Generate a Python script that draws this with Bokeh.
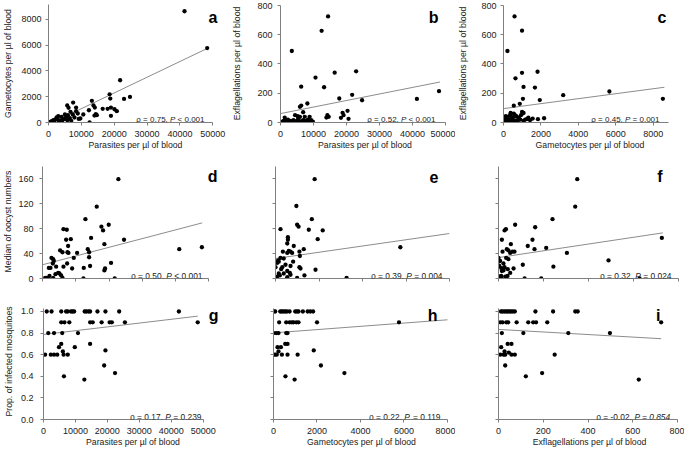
from bokeh.plotting import figure
from bokeh.layouts import column, row
from bokeh.models import Range1d, Label, NumeralTickFormatter
from bokeh.embed import file_html
from bokeh.resources import INLINE

# ---------------- data ----------------
# a: parasites vs gametocytes
a_parasites = [41400, 48300, 21800, 24800, 23000, 18600, 18800, 13200, 7500, 5700, 13700, 6100, 8400, 14100,
               12300, 16500, 18000, 19000, 20100, 20800, 19000, 14400, 14000, 14700, 8400, 8900, 9200, 9700,
               10600, 7400, 6700, 5900, 5400, 5000, 3960, 4450, 2970, 2480, 1980, 1490, 990, 500, 200, 6930,
               7900, 3470, 2770, 12500, 6500, 4160, 3170, 1780, 5740, 5050]
a_gametocytes = [8640, 5780, 3280, 1990, 1830, 2190, 1860, 1680, 1550, 1320, 1320, 1140, 1160, 1160, 950, 1060,
                 1060, 1160, 1030, 880, 520, 645, 540, 570, 880, 700, 280, 310, 620, 620, 830, 570, 440, 620,
                 440, 260, 490, 390, 230, 180, 100, 50, 30, 130, 390, 150, 260, 0, 340, 50, 50, 30, 180, 280]
# b: parasites vs exflagellations
b_parasites = [14400, 12450, 3430, 10600, 16400, 22900, 6270, 13200, 17800, 21700, 24700, 41300, 48000, 8140,
               6270, 5880, 20300, 18800, 19100, 18300, 20600, 14200, 13900, 14600, 4410, 6860, 5880, 5390, 7350,
               8820, 9310, 8330, 7840, 6860, 6370, 4900, 3920, 2940, 2450, 1960, 1470, 980, 490, 1270, 2250,
               3430, 5880, 7550, 8920, 9800, 5200]
b_exflag = [725, 627, 489, 307, 341, 350, 245, 241, 164, 189, 152, 161, 214, 130, 116, 107, 80, 66, 50, 32, 25,
            50, 34, 39, 50, 70, 39, 27, 39, 39, 16, 20, 11, 16, 7, 11, 16, 11, 7, 16, 7, 11, 5, 34, 20, 7, 7, 7,
            7, 5, 43]
# c: gametocytes vs exflagellations
c_gametocytes = [590, 990, 210, 640, 990, 1820, 1070, 1680, 1040, 1940, 3190, 5660, 8520, 550, 870, 380, 990,
                 1070, 610, 690, 550, 1330, 1250, 1560, 1840, 2170, 210, 120, 70, 290, 380, 470, 730, 810, 900,
                 35, 170, 260, 520, 640, 760, 1070, 1160, 1420, 350, 120, 430, 935, 0, 550]
c_exflag = [725, 628, 489, 302, 340, 347, 243, 239, 162, 153, 187, 212, 162, 115, 128, 65, 72, 65, 50, 43, 38,
            34, 23, 27, 23, 29, 38, 25, 16, 20, 11, 25, 16, 34, 20, 7, 9, 5, 7, 11, 5, 11, 20, 16, 50, 43, 34,
            50, 11, 61]
# d: parasites vs median oocysts
d_parasites = [22800, 16300, 12900, 19900, 17700, 18200, 24500, 14600, 6300, 7300, 7100, 8500, 7700, 7500, 7800,
               10400, 18600, 13600, 14000, 14000, 5300, 6000, 9400, 7400, 8900, 14300, 12400, 18800, 18600,
               20600, 41100, 47900, 2700, 3200, 3400, 3100, 1900, 2400, 4100, 4700, 5100, 5600, 6000, 3200,
               2100, 800, 1300, 12300, 21700, 3900, 6300]
d_oocysts = [159, 115, 95, 86, 83, 77, 62, 65, 79, 78, 62, 63, 52, 42, 41, 41, 55, 47, 42, 34, 45, 42, 33, 24,
             16, 20, 17, 16, 13, 25, 47, 50, 33, 31, 28, 24, 17, 17, 19, 9, 8, 5, 1, 1, 4, 1, 1, 0, 0, 7, 19]
# e: gametocytes vs median oocysts
e_gametocytes = [1800, 960, 1670, 995, 1060, 230, 1530, 2170, 570, 570, 1940, 540, 840, 5740, 1300, 340, 610,
                 690, 1100, 540, 765, 1120, 230, 120, 380, 150, 75, 810, 310, 460, 690, 1100, 1150, 1840, 0,
                 540, 660, 690, 150, 200, 75, 0, 540, 995, 1330, 3270, 380, 260]
e_oocysts = [159, 116, 95, 86, 83, 79, 78, 77, 66, 62, 63, 56, 52, 50, 47, 43, 44, 43, 43, 41, 41, 36, 33, 29,
             32, 27, 25, 27, 18, 22, 20, 18, 16, 14, 18, 12, 9, 6, 8, 5, 3, 1, 2, 1, 5, 1, 8, 15]
# f: exflagellations vs median oocysts
f_exflag = [350, 341, 240, 74, 163, 33, 27, 15, 151, 130, 212, 726, 55, 37, 44, 18, 52, 62, 71, 160, 304, 0, 34,
            7, 22, 3, 12, 27, 41, 67, 108, 244, 489, 52, 40, 30, 12, 4, 12, 116, 190, 627, 22, 15, 0, 44]
f_oocysts = [159, 115, 95, 86, 82, 79, 77, 62, 62, 52, 49, 65, 55, 47, 45, 43, 41, 43, 43, 47, 41, 33, 33, 28,
             24, 20, 17, 18, 15, 16, 22, 19, 29, 9, 4, 3, 4, 3, 1, 0, 0, 0, 13, 12, 21, 31]
# g: parasites vs proportion infected
g_parasites = [1010, 2520, 5560, 7070, 7580, 8590, 9090, 9600, 12900, 13400, 14100, 14600, 16900, 19400, 23700,
               42400, 5560, 6570, 8080, 14600, 15400, 18200, 20700, 21400, 25500, 48300, 1500, 3300, 5860,
               10800, 5560, 14600, 4850, 9800, 6060, 19400, 500, 2300, 3300, 4300, 6300, 7600, 19000, 22400,
               6400, 12800]
g_prop = [1.0, 1.0, 1.0, 1.0, 1.0, 1.0, 1.0, 1.0, 1.0, 1.0, 1.0, 1.0, 1.0, 1.0, 1.0, 1.0,
          0.9, 0.9, 0.9, 0.9, 0.9, 0.9, 0.9, 0.9, 0.9, 0.9, 0.8, 0.8, 0.8, 0.8, 0.7, 0.7, 0.67, 0.67,
          0.63, 0.64, 0.6, 0.6, 0.6, 0.6, 0.6, 0.6, 0.5, 0.43, 0.4, 0.37]
# h: gametocytes vs proportion infected
h_gametocytes = [0, 77, 310, 385, 460, 540, 615, 740, 1000, 1080, 1150, 1350, 1570, 1690, 1820,
                 260, 585, 740, 845, 920, 1050, 1150, 2000, 5770, 0, 120, 230, 585, 645, 540, 645, 185, 340,
                 230, 1850, 0, 77, 150, 385, 645, 1110, 2180, 3260, 550, 970]
h_prop = [1.0, 1.0, 1.0, 1.0, 1.0, 1.0, 1.0, 1.0, 1.0, 1.0, 1.0, 1.0, 1.0, 1.0, 1.0,
          0.9, 0.9, 0.9, 0.9, 0.9, 0.9, 0.9, 0.9, 0.9, 0.8, 0.8, 0.8, 0.8, 0.8, 0.7, 0.7, 0.67, 0.67,
          0.63, 0.64, 0.6, 0.6, 0.6, 0.6, 0.6, 0.6, 0.5, 0.43, 0.4, 0.37]
# i: exflagellations vs proportion infected
i_exflag = [11, 18, 26, 34, 41, 49, 56, 64, 73, 165, 244, 343, 354, 8, 18, 35, 43, 81, 133, 155, 168, 218, 727,
            15, 111, 312, 498, 41, 58, 12, 27, 46, 8, 23, 30, 58, 73, 251, 30, 195, 122, 627]
i_prop = [1.0, 1.0, 1.0, 1.0, 1.0, 1.0, 1.0, 1.0, 1.0, 1.0, 1.0, 1.0, 1.0,
          0.9, 0.9, 0.9, 0.9, 0.9, 0.9, 0.9, 0.9, 0.9, 0.9, 0.8, 0.8, 0.8, 0.8, 0.7, 0.7, 0.67,
          0.63, 0.62, 0.6, 0.6, 0.6, 0.6, 0.6, 0.6, 0.5, 0.43, 0.4, 0.37]

# trend lines (end points)
a_fit_x, a_fit_y = [1200, 48300], [0, 5750]
b_fit_x, b_fit_y = [0, 48300], [61, 277]
c_fit_x, c_fit_y = [0, 8600], [95, 241]
d_fit_x, d_fit_y = [0, 48000], [22, 89]
e_fit_x, e_fit_y = [0, 8000], [32, 72]
f_fit_x, f_fit_y = [0, 730], [33.5, 73]
g_fit_x, g_fit_y = [0, 48300], [0.787, 0.957]
h_fit_x, h_fit_y = [0, 8000], [0.802, 0.923]
i_fit_x, i_fit_y = [0, 727], [0.834, 0.748]

# statistics text
stats = {
    "a": ("0.75", "<", "0.001"), "b": ("0.52", "<", "0.001"), "c": ("0.45", "=", "0.001"),
    "d": ("0.50", "<", "0.001"), "e": ("0.39", "=", "0.004"), "f": ("0.32", "=", "0.024"),
    "g": ("0.17", "=", "0.239"), "h": ("0.22", "=", "0.119"), "i": ("-0.02", "=", "0.854"),
}

ticks_par = [0, 10000, 20000, 30000, 40000, 50000]
ticks_gam = [0, 2000, 4000, 6000, 8000]
ticks_exf = [0, 200, 400, 600, 800]
ticks_ooc = [0, 40, 80, 120, 160]
ticks_prop = [0, 0.2, 0.4, 0.6, 0.8, 1.0]

LBL_PAR = "Parasites per µl of blood"
LBL_GAM = "Gametocytes per µl of blood"
LBL_EXF = "Exflagellations per µl of blood"

FONT = "Liberation Sans"
AXC = "#7f7f7f"
TXT = "#222222"
WID = {'.': .278, ',': .278, ' ': .278, '=': .584, '<': .584, '-': .333, 'P': .667, 'ρ': .578}


def tw(s, size):
    return sum(WID.get(ch, .556) for ch in s) * size


def panel(size, xr, xb, yr, yb, borders, xs, ys, fx, fy, xticks, yticks, xlabel, ylabel,
          show_xt, show_yt, ystand, letter, letter_off, stat_dx, stat_size, yfmt=None):
    width, height = size
    bl, br, bt, bb = borders
    p = figure(width=width, height=height, x_range=Range1d(*xr), y_range=Range1d(*yr),
               toolbar_location=None, output_backend="svg",
               min_border_left=bl, min_border_right=br, min_border_top=bt, min_border_bottom=bb)
    p.outline_line_color = None
    p.grid.grid_line_color = None
    for ax in list(p.xaxis) + list(p.yaxis):
        ax.axis_line_color = AXC
        ax.axis_line_width = 1
        ax.major_tick_line_color = AXC
        ax.minor_tick_line_color = None
        ax.major_tick_in = 0
        ax.major_tick_out = 3
        ax.major_label_text_font = FONT
        ax.major_label_text_font_size = "9px"
        ax.major_label_text_color = TXT
        ax.axis_label_text_font = FONT
        ax.axis_label_text_font_size = "8.7px"
        ax.axis_label_text_font_style = "normal"
        ax.axis_label_text_color = TXT
    p.xaxis.major_label_standoff = 5
    p.xaxis.axis_label_standoff = 0
    p.yaxis.major_label_standoff = ystand[0]
    p.yaxis.axis_label_standoff = ystand[1]
    p.xaxis.ticker = xticks
    p.yaxis.ticker = yticks
    if xb:
        p.xaxis.bounds = xb
    if yb:
        p.yaxis.bounds = yb
    if yfmt:
        p.yaxis.formatter = NumeralTickFormatter(format=yfmt)
    if not show_xt:
        p.xaxis.major_label_overrides = {t: "" for t in xticks}
    if not show_yt:
        p.yaxis.major_label_overrides = {t: "" for t in yticks}
    if xlabel:
        p.xaxis.axis_label = xlabel
    if ylabel:
        p.yaxis.axis_label = ylabel

    p.line(fx, fy, line_color="#8c8c8c", line_width=1)
    p.scatter(xs, ys, size=4.3, fill_color="black", line_color=None)

    # panel letter
    p.add_layout(Label(x=xr[1], y=yr[1], text=letter, text_align="right", text_baseline="alphabetic",
                       x_offset=letter_off[0], y_offset=letter_off[1], text_font=FONT, text_font_size="16px",
                       text_font_style="bold", text_color="black"))
    # statistics
    rho, op, pv = stats[letter]
    common = dict(x=xr[1], y=yr[0], text_align="right", text_baseline="alphabetic", y_offset=3,
                  text_font=FONT, text_font_size=f"{stat_size}px", text_color=TXT)
    sp = tw(" ", stat_size)
    if letter == "i":
        s2 = f"P {op} {pv}"
        w2 = tw(s2, stat_size)
        p.add_layout(Label(text=s2, x_offset=stat_dx, text_font_style="italic", **common))
        p.add_layout(Label(text=f"ρ = {rho},", x_offset=stat_dx - w2 - sp, **common))
    else:
        s3 = f"{op} {pv}"
        w3 = tw(s3, stat_size)
        wp = tw("P", stat_size)
        p.add_layout(Label(text=s3, x_offset=stat_dx, **common))
        p.add_layout(Label(text="P", x_offset=stat_dx - w3 - sp, text_font_style="italic", **common))
        p.add_layout(Label(text=f"ρ = {rho},", x_offset=stat_dx - w3 - sp - wp - sp, **common))
    return p


W1, W2, W3 = 229, 226, 229
H1, H2, H3 = 154, 146, 149

pa = panel((W1, H1), (0, 52959), (0, 50000), (0, 9165), None, (43, 7, 4, 32),
           a_parasites, a_gametocytes, a_fit_x, a_fit_y, ticks_par, ticks_gam, LBL_PAR, LBL_GAM,
           True, True, (4, 5), "a", (-5, -13), -18, 8)
pb = panel((W2, H1), (0, 51176), (0, 50000), (0, 806.8), (0, 800), (46, 6, 4, 32),
           b_parasites, b_exflag, b_fit_x, b_fit_y, ticks_par, ticks_exf, LBL_PAR, LBL_EXF,
           True, True, (5, 12), "b", (-11, -13), -14, 8)
pc = panel((W3, H1), (0, 9247), (0, 8830), (0, 806.8), (0, 800), (43, 8, 4, 32),
           c_gametocytes, c_exflag, c_fit_x, c_fit_y, ticks_gam, ticks_exf, LBL_GAM, LBL_EXF,
           True, True, (4, 10), "c", (-10, -13), -17, 8)

pd = panel((W1, H2), (0, 54094), (0, 50000), (0, 182.4), (0, 179), (37, 7, 10, 22),
           d_parasites, d_oocysts, d_fit_x, d_fit_y, ticks_par, ticks_ooc, None, "Median of oocyst numbers",
           False, True, (6, 2), "d", (-5, -12), -20, 8.4)
pe = panel((W2, H2), (0, 8000), (0, 8000), (0, 182.4), (0, 179), (46, 6, 10, 22),
           e_gametocytes, e_oocysts, e_fit_x, e_fit_y, ticks_gam, ticks_ooc, None, None,
           False, False, (5, 2), "e", (-11, -12), -7, 8.4)
pf = panel((W3, H2), (0, 808.9), (0, 800), (0, 182.4), (0, 179), (43, 4, 10, 22),
           f_exflag, f_oocysts, f_fit_x, f_fit_y, ticks_exf, ticks_ooc, None, None,
           False, False, (5, 2), "f", (-18, -12), -9, 8.4)

pg = panel((W1, H3), (0, 56061), (0, 50000), (0, 1.074), (0, 1.03), (37, 7, 3, 30),
           g_parasites, g_prop, g_fit_x, g_fit_y, ticks_par, ticks_prop, LBL_PAR, "Prop. of infected mosquitoes",
           True, True, (7, 4), "g", (-4, -12), -21, 8.4, yfmt="0.0")
ph = panel((W2, H3), (0, 8092), (0, 8000), (0, 1.074), (0, 1.03), (44, 6, 3, 30),
           h_gametocytes, h_prop, h_fit_x, h_fit_y, ticks_gam, ticks_prop, LBL_GAM, None,
           True, False, (5, 2), "h", (-12, -12), -9, 8.4)
pi = panel((W3, H3), (0, 813.4), (0, 800), (0, 1.074), (0, 1.03), (43, 4, 3, 30),
           i_exflag, i_prop, i_fit_x, i_fit_y, ticks_exf, ticks_prop, LBL_EXF, None,
           True, False, (5, 2), "i", (-20, -12), -10, 8.4)

layout = column(row(pa, pb, pc), row(pd, pe, pf), row(pg, ph, pi))

open("out.html", "w").write(file_html(layout, INLINE))
